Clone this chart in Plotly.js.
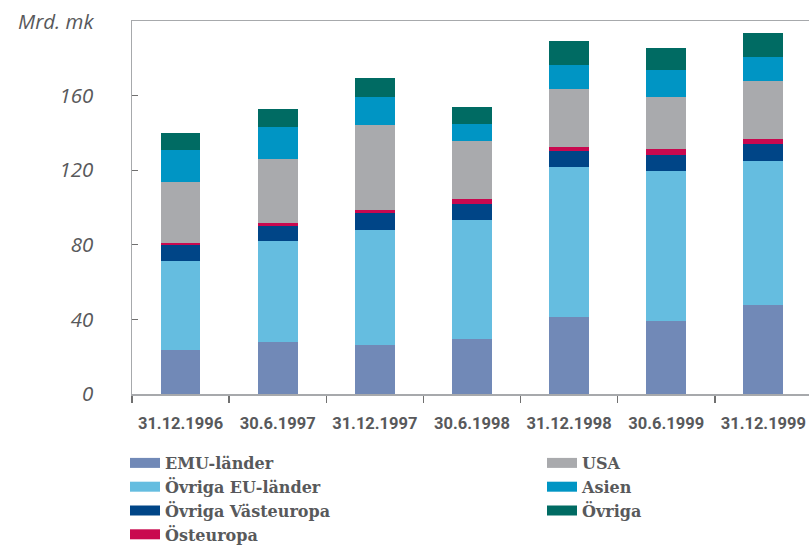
<!DOCTYPE html>
<html>
<head>
<meta charset="utf-8">
<script src="https://cdn.plot.ly/plotly-3.0.1.min.js"></script>
<style>html,body{margin:0;padding:0;background:#fff;}#chart{width:809px;height:546px;}</style>
</head>
<body>
<div id="chart"></div>
<script>
// Categories (dates)
var categories = ["31.12.1996","30.6.1997","31.12.1997","30.6.1998","31.12.1998","30.6.1999","31.12.1999"];
// Series values (Mrd. mk)
var emuLander        = [23.8, 28.0, 26.4, 29.6, 41.4, 39.3, 47.8];
var ovrigaEuLander   = [47.5, 54.0, 61.5, 63.6, 80.1, 80.2, 77.4];
var ovrigaVasteuropa = [ 8.5,  8.0,  9.0,  8.5,  8.6,  8.9,  8.6];
var osteuropa        = [ 1.1,  1.6,  1.6,  2.7,  2.6,  3.2,  3.2];
var usa              = [32.6, 34.2, 45.7, 31.0, 31.0, 27.8, 31.0];
var asien            = [17.1, 17.2, 14.9,  9.2, 12.8, 14.4, 12.8];
var ovriga           = [ 9.6,  9.6, 10.3,  9.2, 12.8, 11.8, 12.8];
// Series names
var seriesNames = ["EMU-länder","Övriga EU-länder","Övriga Västeuropa","Östeuropa","USA","Asien","Övriga"];
var yTickVals = [0, 40, 80, 120, 160];
var yUnit = "Mrd. mk";

var seriesData = [emuLander, ovrigaEuLander, ovrigaVasteuropa, osteuropa, usa, asien, ovriga];
var colors = ["#7189b7","#65bde0","#004587","#c9094f","#a9aaad","#0095c4","#006b63"];
var legendOf = ["legend","legend","legend","legend","legend2","legend2","legend2"];

var traces = [];
seriesData.forEach(function(vals, i){
  traces.push({
    type: "bar", x: categories, y: vals, name: seriesNames[i],
    marker: {color: colors[i], line: {width: 0}},
    width: 0.41, showlegend: false, hoverinfo: "x+y+name"
  });
});
seriesData.forEach(function(vals, i){
  traces.push({
    type: "scatter", mode: "lines", x: [null], y: [null], name: seriesNames[i],
    line: {color: colors[i], width: 10}, legend: legendOf[i], showlegend: true, hoverinfo: "skip"
  });
});

var gray = "#58595b";
var axisCol = "#a7a9ac";
var legFont = {family: "DejaVu Serif, serif", size: 16, color: gray, weight: "bold"};

var layout = {
  width: 809, height: 546,
  margin: {l: 132, r: 0, t: 21, b: 151.5, pad: 0, autoexpand: false},
  paper_bgcolor: "#ffffff", plot_bgcolor: "#ffffff",
  barmode: "stack",
  showlegend: true,
  xaxis: {
    type: "category", range: [-0.5, 6.47], automargin: false,
    showline: true, linecolor: axisCol, linewidth: 1.5, mirror: true,
    ticks: "outside", tickson: "boundaries", ticklen: 7, tickcolor: "#707070", tickwidth: 1.5,
    showgrid: false, zeroline: false, tickangle: 0,
    tickfont: {family: "Roboto, sans-serif", size: 16.5, color: gray, weight: "bold"},
    ticklabelstandoff: 14, fixedrange: true
  },
  yaxis: {
    range: [0, 200], tickvals: yTickVals, ticktext: yTickVals.map(String), automargin: false,
    showline: true, linecolor: axisCol, linewidth: 1.5,
    ticks: "inside", ticklen: 6, tickcolor: "#707070", tickwidth: 1.2,
    showgrid: false, zeroline: false,
    tickfont: {family: "Open Sans, sans-serif", size: 20.5, color: gray, style: "italic"},
    ticklabelstandoff: 33, fixedrange: true
  },
  legend: {
    xref: "container", yref: "container", x: 125/809, y: 1 - 446/546,
    xanchor: "left", yanchor: "top", orientation: "v", traceorder: "normal",
    font: legFont, bgcolor: "rgba(0,0,0,0)", itemclick: false, itemdoubleclick: false,
    tracegroupgap: 0
  },
  legend2: {
    xref: "container", yref: "container", x: 542/809, y: 1 - 446/546,
    xanchor: "left", yanchor: "top", orientation: "v", traceorder: "normal",
    font: legFont, bgcolor: "rgba(0,0,0,0)", itemclick: false, itemdoubleclick: false,
    tracegroupgap: 0
  },
  annotations: [{
    xref: "paper", yref: "paper", x: -36/677, y: 1.0, xanchor: "right", yanchor: "middle",
    text: yUnit, showarrow: false,
    font: {family: "Open Sans, sans-serif", size: 20.5, color: gray, style: "italic"}
  }]
};

Plotly.newPlot("chart", traces, layout, {displayModeBar: false, staticPlot: true});
</script>
</body>
</html>
